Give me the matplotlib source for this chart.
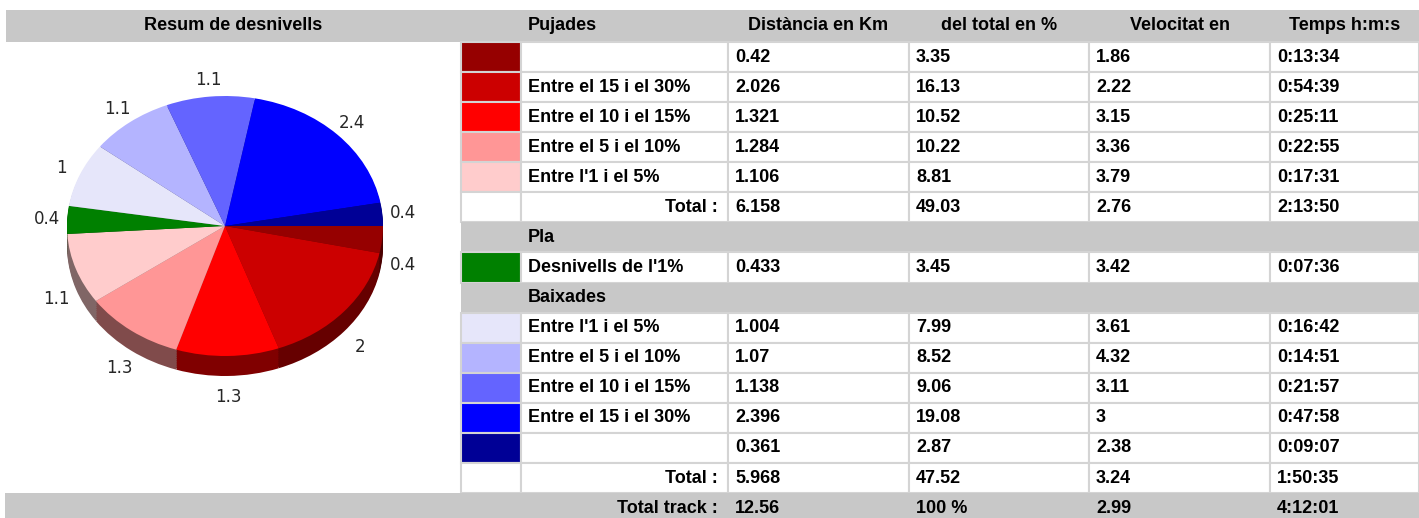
import matplotlib
matplotlib.use('Agg')
import matplotlib.pyplot as plt
from matplotlib.patches import Rectangle
from matplotlib.colors import to_rgb
import numpy as np

# --- data -------------------------------------------------------------
header_left = "Resum de desnivells"
col_titles = ["Pujades", "Distància en Km", "del total en %", "Velocitat en", "Temps h:m:s"]

up_labels = ["", "Entre el 15 i el 30%", "Entre el 10 i el 15%", "Entre el 5 i el 10%", "Entre l'1 i el 5%"]
up_dist = [0.42, 2.026, 1.321, 1.284, 1.106]
up_pct = [3.35, 16.13, 10.52, 10.22, 8.81]
up_speed = [1.86, 2.22, 3.15, 3.36, 3.79]
up_time = ["0:13:34", "0:54:39", "0:25:11", "0:22:55", "0:17:31"]
up_total = [6.158, 49.03, 2.76, "2:13:50"]

flat_title = "Pla"
flat_labels = ["Desnivells de l'1%"]
flat_dist = [0.433]
flat_pct = [3.45]
flat_speed = [3.42]
flat_time = ["0:07:36"]

down_title = "Baixades"
down_labels = ["Entre l'1 i el 5%", "Entre el 5 i el 10%", "Entre el 10 i el 15%", "Entre el 15 i el 30%", ""]
down_dist = [1.004, 1.07, 1.138, 2.396, 0.361]
down_pct = [7.99, 8.52, 9.06, 19.08, 2.87]
down_speed = [3.61, 4.32, 3.11, 3, 2.38]
down_time = ["0:16:42", "0:14:51", "0:21:57", "0:47:58", "0:09:07"]
down_total = [5.968, 47.52, 3.24, "1:50:35"]

track_total = [12.56, "100 %", 2.99, "4:12:01"]

up_colors = ["#960000", "#cc0000", "#ff0000", "#ff9696", "#ffcccc"]
flat_colors = ["#008000"]
down_colors = ["#e6e6fa", "#b4b4ff", "#6464ff", "#0000ff", "#000096"]

# --- figure -----------------------------------------------------------
W, H = 1419, 518
fig = plt.figure(figsize=(W / 100, H / 100), dpi=100)
tab = fig.add_axes([0, 0, 1, 1])
tab.set_xlim(0, W)
tab.set_ylim(H, 0)
tab.axis('off')

GRAY = "#c8c8c8"
LINE = "#d4d4d4"
FONT = dict(family=["Liberation Sans", "DejaVu Sans"], weight='bold', fontsize=13, color='black')

cols = [461, 521, 728, 909, 1089, 1270, 1419]
row_h = 30.07
top0 = 42


def fmt(v):
    return f"{v:g}" if isinstance(v, (int, float)) else v


# header bar
tab.add_patch(Rectangle((6, 10), W - 6, 32, facecolor=GRAY, edgecolor='none'))
tab.text(233, 26, header_left, ha='center', va='center', **FONT)
tab.text(cols[1] + 7, 26, col_titles[0], ha='left', va='center', **FONT)
for j, t in enumerate(col_titles[1:]):
    tab.text((cols[j + 2] + cols[j + 3]) / 2, 26, t, ha='center', va='center', **FONT)

# build row list
rows = []
for i in range(len(up_labels)):
    rows.append(("data", up_colors[i], up_labels[i], [up_dist[i], up_pct[i], up_speed[i], up_time[i]]))
rows.append(("total", None, "Total :", up_total))
rows.append(("section", None, flat_title, None))
for i in range(len(flat_labels)):
    rows.append(("data", flat_colors[i], flat_labels[i], [flat_dist[i], flat_pct[i], flat_speed[i], flat_time[i]]))
rows.append(("section", None, down_title, None))
for i in range(len(down_labels)):
    rows.append(("data", down_colors[i], down_labels[i], [down_dist[i], down_pct[i], down_speed[i], down_time[i]]))
rows.append(("total", None, "Total :", down_total))

for r, (kind, color, label, vals) in enumerate(rows):
    y0 = top0 + r * row_h
    yc = y0 + row_h / 2
    if kind == "section":
        tab.add_patch(Rectangle((cols[0], y0), cols[-1] - cols[0], row_h, facecolor=GRAY, edgecolor='none'))
        tab.text(cols[1] + 7, yc, label, ha='left', va='center', **FONT)
        continue
    for j in range(len(cols) - 1):
        fc = color if (j == 0 and color) else 'white'
        tab.add_patch(Rectangle((cols[j], y0), cols[j + 1] - cols[j], row_h,
                                facecolor=fc, edgecolor=LINE, lw=1.5))
    if kind == "data":
        tab.text(cols[1] + 7, yc, label, ha='left', va='center', **FONT)
    else:
        tab.text(cols[2] - 10, yc, label, ha='right', va='center', **FONT)
    for j, v in enumerate(vals):
        tab.text(cols[j + 2] + 7, yc, fmt(v), ha='left', va='center', **FONT)

# total track row
y0 = top0 + len(rows) * row_h
tab.add_patch(Rectangle((5, y0), W - 5, 40, facecolor=GRAY, edgecolor='none'))
yc = y0 + 15
tab.text(cols[2] - 10, yc, "Total track :", ha='right', va='center', **FONT)
for j, v in enumerate(track_total):
    tab.text(cols[j + 2] + 7, yc, fmt(v), ha='left', va='center', **FONT)

# --- pseudo 3D pie ----------------------------------------------------
values = up_dist + flat_dist + down_dist
colors = up_colors + flat_colors + down_colors
shade = [tuple(c * 0.5 for c in to_rgb(col)) for col in colors]
labels = [f"{round(v, 1):g}" for v in values]

cx, cy = 225, H - 226      # centre in figure pixels
rx, ry = 158, 130          # radii in pixels
depth = 20
half = 210
pie_ax = fig.add_axes([(cx - half) / W, (cy - half) / H, 2 * half / W, 2 * half / H])
pie_ax.patch.set_visible(False)

for off in np.linspace(depth / ry, 0, 12)[:-1]:
    pie_ax.pie(values, colors=shade, startangle=0, counterclock=False,
               center=(0, -off), wedgeprops=dict(linewidth=0))

_, texts = pie_ax.pie(values, colors=colors, startangle=0, counterclock=False,
                      labels=labels, labeldistance=1.13,
                      wedgeprops=dict(linewidth=0),
                      textprops=dict(ha='center', va='center', fontsize=12,
                                     color='#262626', family='DejaVu Sans'))
for t in texts:
    x, y = t.get_position()
    if y < 0:
        t.set_position((x, y - 1.2 * depth / ry))

pie_ax.set_aspect('auto')
pie_ax.set_xlim(-half / rx, half / rx)
pie_ax.set_ylim(-half / ry, half / ry)
pie_ax.axis('off')

fig.savefig("out.png", dpi=100)
